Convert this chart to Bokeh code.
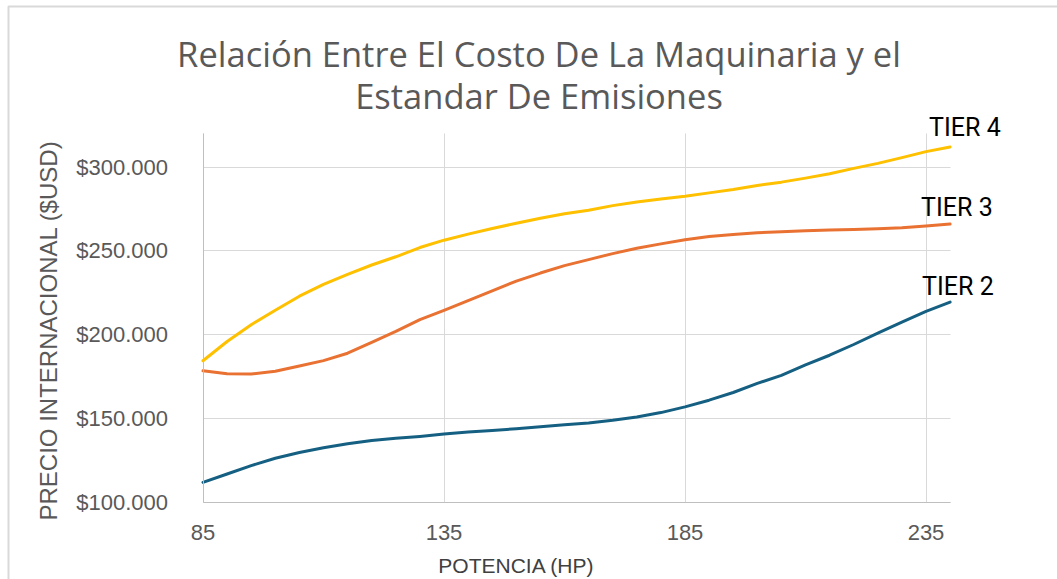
from math import pi

from bokeh.embed import file_html
from bokeh.models import (BoxAnnotation, ColumnDataSource, FixedTicker, Label,
                          Range1d)
from bokeh.plotting import figure
from bokeh.resources import INLINE

# Horsepower steps and machine price (USD) per emission standard
potencia_hp = [85, 90, 95, 100, 105, 110, 115, 120, 125, 130, 135, 140, 145, 150,
               155, 160, 165, 170, 175, 180, 185, 190, 195, 200, 205, 210, 215,
               220, 225, 230, 235, 240]

precio_tier2 = [112000, 117000, 122000, 126400, 129800, 132600, 135000, 137000,
                138300, 139400, 140800, 142000, 142900, 144000, 145200, 146400,
                147400, 149000, 151000, 153600, 157000, 161000, 165600, 171000,
                175800, 182000, 187800, 194200, 201000, 207600, 214000, 219500]

precio_tier3 = [178500, 176800, 176600, 178200, 181400, 184600, 189000, 195500,
                202000, 209000, 214600, 220400, 226200, 232000, 236800, 241200,
                244800, 248400, 251600, 254200, 256600, 258600, 259800, 260800,
                261400, 262000, 262400, 262800, 263200, 263800, 264800, 266000]

precio_tier4 = [184500, 196000, 206000, 214600, 223000, 230000, 236000, 241600,
                246500, 252000, 256400, 260000, 263400, 266500, 269500, 272200,
                274200, 277000, 279200, 281000, 282600, 284600, 286600, 289000,
                291000, 293400, 296000, 299200, 302200, 305600, 309200, 312000]

series_names = ["TIER 2", "TIER 3", "TIER 4"]
series_colors = ["#156082", "#E97132", "#FFC000"]

x_bounds = (85, 240)
y_bounds = (100000, 320000)
x_ticks = [85, 135, 185, 235]
y_ticks = [100000, 150000, 200000, 250000, 300000]
y_tick_labels = ["$100.000", "$150.000", "$200.000", "$250.000", "$300.000"]

title_lines = ["Relación Entre El Costo De La Maquinaria y el",
               "Estandar De Emisiones"]
x_title = "POTENCIA (HP)"
y_title = "PRECIO INTERNACIONAL ($USD)"

W, H = 1057, 579
# pixel box of the plotting area inside the chart
PL, PR, PT, PB = 202.5, 949.6, 133.0, 502.0

# the frame fills the whole chart; ranges are widened so the data box
# lands on the plotting area and the axes sit at fixed locations
ux = (x_bounds[1] - x_bounds[0]) / (PR - PL)
uy = (y_bounds[1] - y_bounds[0]) / (PB - PT)
x_range = Range1d(x_bounds[0] - PL * ux, x_bounds[1] + (W - PR) * ux)
y_range = Range1d(y_bounds[0] - (H - PB) * uy, y_bounds[1] + PT * uy)

p = figure(width=W, height=H, output_backend="svg", toolbar_location=None,
           title=None, x_range=x_range, y_range=y_range,
           min_border=0, min_border_left=0, min_border_right=0,
           min_border_top=0, min_border_bottom=0)
p.background_fill_color = "white"
p.border_fill_color = "white"
p.outline_line_color = None

# axes
p.xaxis.fixed_location = y_bounds[0]
p.yaxis.fixed_location = x_bounds[0]
p.xaxis.bounds = x_bounds
p.yaxis.bounds = y_bounds
p.xaxis.ticker = FixedTicker(ticks=x_ticks)
p.yaxis.ticker = FixedTicker(ticks=y_ticks)
p.yaxis.major_label_overrides = {t: s for t, s in zip(y_ticks, y_tick_labels)}
for ax in (p.xaxis, p.yaxis):
    ax.axis_line_color = "#BFBFBF"
    ax.axis_line_width = 1
    ax.major_tick_line_color = None
    ax.minor_tick_line_color = None
    ax.major_label_text_font = "Liberation Sans"
    ax.major_label_text_font_size = "22px"
    ax.major_label_text_color = "#595959"
p.yaxis.major_label_standoff = 29
p.xaxis.major_label_standoff = 16

p.xgrid.bounds = x_bounds
p.ygrid.bounds = y_bounds
p.xgrid.cross_bounds = y_bounds
p.ygrid.cross_bounds = x_bounds
for g in (p.xgrid, p.ygrid):
    g.grid_line_color = "#D9D9D9"
    g.grid_line_width = 1

# price curves
for name, vals, color in zip(series_names,
                             [precio_tier2, precio_tier3, precio_tier4],
                             series_colors):
    src = ColumnDataSource(dict(x=potencia_hp, y=vals))
    p.line("x", "y", source=src, line_color=color, line_width=3,
           line_join="round", line_cap="round")

# series name next to the end of each curve
label_offsets = {"TIER 2": (-28, 16), "TIER 3": (-29, 16.5), "TIER 4": (-21, 19.5)}
for name, vals in zip(series_names, [precio_tier2, precio_tier3, precio_tier4]):
    dx, dy = label_offsets[name]
    p.add_layout(Label(x=potencia_hp[-1], y=vals[-1], text=name,
                       x_offset=dx, y_offset=dy,
                       text_font="Roboto", text_font_size="25px",
                       text_color="#000000", text_baseline="middle",
                       text_align="left"))


def sy(py):
    # screen y is measured upward from the bottom of the chart
    return H - py


# chart title, two centered lines
for line_text, mid in zip(title_lines, [52.5, 94.5]):
    p.add_layout(Label(x=538.5, y=sy(mid), x_units="screen",
                       y_units="screen", text=line_text,
                       text_font="Open Sans", text_font_size="34.5px",
                       text_color="#595959", text_align="center",
                       text_baseline="middle"))

# axis titles
p.add_layout(Label(x=48, y=sy(330), x_units="screen", y_units="screen",
                   text=y_title, angle=pi / 2, text_font="Liberation Sans",
                   text_font_size="24px", text_color="#595959",
                   text_align="center", text_baseline="middle"))
p.add_layout(Label(x=516, y=sy(564.5), x_units="screen", y_units="screen",
                   text=x_title, text_font="Liberation Sans",
                   text_font_size="21px", text_color="#404040",
                   text_align="center", text_baseline="middle"))

# chart area border (top and left edges visible)
p.add_layout(BoxAnnotation(left=8, right=W + 50, top=sy(6), bottom=-50,
                           left_units="screen", right_units="screen",
                           top_units="screen", bottom_units="screen",
                           fill_color=None, line_color="#808080",
                           line_width=2))

open("out.html", "w").write(file_html(p, INLINE))
